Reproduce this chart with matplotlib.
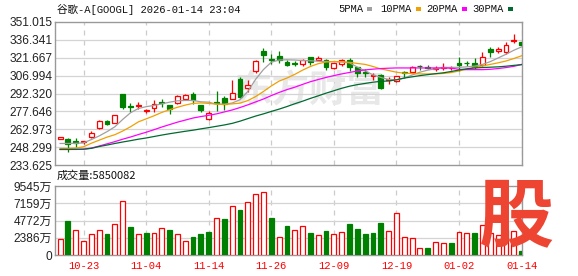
import matplotlib
matplotlib.use("Agg")
import matplotlib.pyplot as plt
from matplotlib.patches import Rectangle
import numpy as np

# trading days shown on the chart
dates = ["10-20", "10-21", "10-22", "10-23", "10-24", "10-27", "10-28", "10-29", "10-30", "10-31",
         "11-03", "11-04", "11-05", "11-06", "11-07", "11-10", "11-11", "11-12", "11-13", "11-14",
         "11-17", "11-18", "11-19", "11-20", "11-21", "11-24", "11-25", "11-26", "11-28", "12-01",
         "12-02", "12-03", "12-04", "12-05", "12-08", "12-09", "12-10", "12-11", "12-12", "12-15",
         "12-16", "12-17", "12-18", "12-19", "12-22", "12-23", "12-24", "12-26", "12-29", "12-30",
         "12-31", "01-02", "01-05", "01-06", "01-07", "01-08", "01-09", "01-12", "01-13", "01-14"]
tick_dates = ["10-23", "11-04", "11-14", "11-26", "12-09", "12-19", "01-02", "01-14"]

opens = [255.3, 254.6, 253.4, 252.6, 256.4, 264.3, 269.5, 268.4, 291.5, 282.2,
         281.8, 277.6, 280.3, 285.0, 283.1, 284.4, 288.0, 292.0, 282.5, 271.4,
         285.0, 288.5, 287.4, 304.3, 296.6, 311.0, 326.8, 321.0, 323.3, 317.8,
         317.4, 316.5, 322.5, 320.0, 319.8, 312.9, 316.5, 319.8, 313.8, 310.3,
         306.6, 307.8, 303.0, 302.9, 310.0, 309.7, 315.2, 314.2, 312.8, 313.0,
         313.0, 317.0, 317.6, 317.0, 315.9, 329.0, 327.4, 326.0, 335.8, 334.7]
highs = [257.0, 255.4, 256.0, 253.5, 261.3, 270.8, 270.5, 275.0, 291.8, 284.7,
         285.3, 279.8, 286.6, 288.0, 283.1, 291.0, 291.8, 293.4, 282.5, 277.9,
         294.0, 289.9, 303.7, 306.2, 303.5, 320.0, 329.3, 324.7, 327.4, 319.5,
         319.2, 321.0, 322.5, 323.3, 320.6, 317.5, 321.0, 321.4, 313.8, 312.5,
         308.9, 308.5, 306.0, 307.0, 311.0, 314.6, 315.7, 315.5, 314.5, 317.0,
         314.5, 322.5, 319.2, 321.1, 326.5, 330.6, 330.9, 334.7, 341.0, 334.7]
lows = [255.0, 244.0, 248.0, 250.5, 255.4, 263.0, 266.4, 268.0, 279.8, 277.1,
        279.8, 276.6, 277.1, 281.0, 275.8, 283.6, 287.5, 283.9, 277.1, 270.3,
        278.0, 279.0, 287.4, 288.8, 293.4, 309.4, 317.8, 316.5, 317.0, 314.5,
        314.5, 314.8, 315.7, 319.5, 311.6, 312.5, 315.0, 310.5, 305.6, 306.2,
        303.5, 296.0, 300.0, 301.5, 305.0, 309.0, 311.9, 312.5, 311.0, 312.0,
        312.0, 310.5, 315.1, 312.5, 315.1, 321.9, 325.5, 324.7, 334.1, 330.6]
closes = [256.4, 250.5, 252.0, 253.4, 259.5, 269.5, 267.3, 274.4, 281.1, 281.0,
          282.8, 278.6, 283.9, 284.3, 279.3, 289.9, 291.3, 286.6, 278.5, 276.3,
          284.2, 284.0, 292.9, 289.3, 299.7, 319.2, 323.9, 319.6, 320.0, 315.7,
          316.6, 319.8, 317.8, 321.4, 313.8, 317.3, 319.8, 313.8, 309.2, 309.0,
          307.9, 296.6, 304.0, 306.4, 309.3, 313.8, 314.6, 313.4, 313.6, 313.8,
          313.6, 315.4, 317.0, 314.3, 322.5, 326.0, 328.7, 332.0, 336.6, 332.0]
# volume in 万 shares
volumes = [2170, 4660, 3410, 1890, 2860, 3410, 2860, 4240, 7420, 3830,
           2860, 3040, 2990, 3690, 3410, 2860, 1890, 2440, 2860, 3180,
           5160, 4930, 6820, 6180, 7380, 8480, 8760, 5070, 2540, 4060,
           3500, 4060, 3000, 2810, 3270, 2950, 3230, 4240, 3550, 2860,
           3000, 4380, 3270, 5850, 2540, 2400, 920, 920, 1840, 1610,
           1610, 3130, 3000, 3040, 4200, 3090, 2800, 3500, 3270, 585]

ma5 = [251.3, 251.3, 251.4, 251.8, 254.5, 257.5, 261.0, 265.0, 271.0, 276.5,
       280.0, 281.5, 282.5, 283.8, 285.2, 286.3, 286.6, 286.6, 285.5, 285.2,
       283.5, 283.5, 284.5, 287.2, 294.0, 304.0, 312.0, 318.0, 319.8, 320.0,
       319.8, 319.4, 319.2, 318.8, 318.6, 318.4, 318.2, 317.5, 314.0, 311.0,
       307.6, 305.5, 303.8, 303.5, 305.0, 307.5, 309.8, 311.5, 312.6, 313.6,
       313.8, 313.8, 314.2, 314.8, 316.2, 318.5, 321.5, 324.5, 327.8, 330.6]
ma10 = [247.2, 247.2, 247.5, 248.6, 251.5, 254.0, 256.5, 258.5, 261.5, 265.0,
        269.0, 271.5, 274.0, 276.8, 279.0, 281.0, 282.8, 284.2, 284.6, 284.2,
        283.6, 283.3, 283.8, 284.4, 286.5, 289.8, 294.0, 298.5, 302.5, 305.0,
        308.0, 311.5, 314.5, 316.8, 318.2, 318.6, 318.4, 317.9, 317.0, 316.2,
        314.5, 312.5, 311.2, 309.8, 309.0, 308.7, 308.4, 308.4, 308.4, 308.8,
        309.5, 310.8, 312.3, 313.6, 315.0, 316.2, 317.5, 319.0, 321.0, 323.3]
ma20 = [246.4, 246.4, 246.4, 246.6, 247.5, 249.2, 251.0, 252.8, 254.8, 256.6,
        258.6, 260.5, 262.6, 264.8, 266.8, 268.8, 270.5, 272.2, 273.4, 274.4,
        275.6, 277.2, 278.8, 280.8, 283.0, 285.4, 287.8, 290.6, 293.2, 295.5,
        297.5, 299.8, 302.0, 303.8, 305.5, 307.0, 308.4, 309.6, 310.8, 311.7,
        312.3, 312.8, 313.1, 313.3, 313.3, 313.3, 313.3, 313.3, 313.3, 313.3,
        313.1, 312.2, 311.9, 311.9, 311.9, 312.2, 312.8, 313.6, 314.6, 316.2]
ma30 = [246.4, 246.4, 246.5, 246.6, 247.3, 248.8, 250.0, 251.3, 252.5, 253.6,
        254.8, 255.8, 257.0, 258.2, 259.3, 260.3, 261.3, 262.2, 263.3, 264.3,
        265.4, 266.5, 267.8, 269.6, 271.7, 273.8, 275.6, 277.6, 279.5, 281.6,
        283.9, 286.0, 288.3, 290.4, 292.6, 294.6, 296.6, 298.3, 299.6, 300.6,
        301.6, 302.3, 302.6, 303.6, 305.0, 306.0, 307.0, 307.8, 308.6, 309.3,
        310.4, 311.6, 312.6, 313.3, 313.6, 313.9, 314.2, 314.7, 315.4, 316.0]

price_ticks = [233.625, 248.299, 262.973, 277.646, 292.320, 306.994, 321.667, 336.341, 351.015]
vol_ticks = [0, 2386, 4772, 7159, 9545]
vol_tick_labels = ["0", "2386万", "4772万", "7159万", "9545万"]

RED = "#ff0000"
GREEN = "#008000"
MA_COLORS = ["#a0a0a0", "#f0a000", "#ff00ff", "#006a30"]
CJK = ["Liberation Mono", "Noto Sans CJK SC"]
NUM = ["Liberation Sans", "Noto Sans CJK SC"]

x = np.arange(len(dates))
o = np.array(opens); c = np.array(closes)
h = np.array(highs); l = np.array(lows)
up = c >= o
prev = np.concatenate([[o[0]], c[:-1]])
vol_up = c >= prev  # volume colour follows close vs previous close

fig = plt.figure(figsize=(5.78, 2.76), dpi=100)
ax = fig.add_axes([55 / 578, 1 - 165 / 276, 467 / 578, 143 / 276])
axv = fig.add_axes([55 / 578, 1 - 255 / 276, 467 / 578, 69 / 276])

tick_idx = [dates.index(d) for d in tick_dates]
for a in (ax, axv):
    a.set_xlim(-0.65, len(dates) - 0.95)
    for s in a.spines.values():
        s.set_color("#999999")
        s.set_linewidth(1)
    for t in tick_idx:
        a.axvline(t, color="#cccccc", lw=0.9, ls=(0, (4, 4)), zorder=0)
    a.tick_params(length=0, pad=2)

# watermark
ax.text(0.545, 0.52, "东方财富", transform=ax.transAxes, fontsize=27,
        family="Noto Sans CJK SC", fontweight="bold", color="#e8e8e8",
        ha="center", va="center", zorder=0)

# price panel
ax.set_ylim(price_ticks[0], price_ticks[-1])
ax.set_yticks(price_ticks)
ax.set_yticklabels(["%.3f" % v for v in price_ticks], family=NUM, fontsize=8.6, color="#222222")
ax.set_xticks([])
for v in price_ticks[1:-1]:
    ax.axhline(v, color="#d4d4d4", lw=0.9, zorder=0)

w = 0.62
ax.vlines(x, l, h, colors=np.where(up, RED, GREEN), lw=0.9, zorder=2)
body_lo = np.minimum(o, c)
body_h = np.maximum(np.abs(c - o), 0.4)
ax.bar(x, body_h, bottom=body_lo, width=w, facecolor=np.where(up, "white", GREEN),
       edgecolor=np.where(up, RED, GREEN), linewidth=0.9, zorder=3)

for ma, col in zip([ma5, ma10, ma20, ma30], MA_COLORS):
    ax.plot(x, ma, color=col, lw=0.9, zorder=4)

# volume panel
axv.set_ylim(0, 9545)
axv.set_yticks(vol_ticks)
axv.set_yticklabels(vol_tick_labels, family=NUM, fontsize=8.6, color="#222222")
for v in vol_ticks[1:-1]:
    axv.axhline(v, color="#d4d4d4", lw=0.9, zorder=0)
axv.bar(x, volumes, width=w, facecolor=np.where(vol_up, "white", GREEN),
        edgecolor=np.where(vol_up, RED, GREEN), linewidth=0.9, zorder=3)
axv.set_xticks(tick_idx)
axv.set_xticklabels(tick_dates, family=CJK, fontsize=7.6, color=RED)
axv.tick_params(axis="x", pad=4)

# header texts
fig.text(57 / 578, 1 - 9 / 276, "谷歌-A[GOOGL] 2026-01-14 23:04", family=CJK,
         fontsize=7.6, va="center", ha="left", color="#111111")
fig.text(57 / 578, 1 - 176 / 276, "成交量:5850082", family=["Noto Sans CJK SC", "DejaVu Sans"],
         fontsize=8, va="center", ha="left", color="#111111")

legend_x = [338, 380, 426, 472]
for name, col, lx in zip(["5PMA", "10PMA", "20PMA", "30PMA"], MA_COLORS, legend_x):
    fig.text(lx / 578, 1 - 9 / 276, name, family=CJK, fontsize=7.6,
             va="center", ha="left", color="#111111")
    sx = lx + len(name) * 6.6 + 3
    fig.patches.append(Rectangle((sx / 578, 1 - 11 / 276), 5 / 578, 4 / 276,
                                 transform=fig.transFigure, facecolor=col, edgecolor="none"))

# 股 logo
fig.text(516 / 578, 1 - 218 / 276, "股", family="Noto Sans CJK SC", fontweight="bold",
         fontsize=54, color="#ee4432", ha="center", va="center", zorder=10)

fig.savefig("out.png", dpi=100, facecolor="white")
